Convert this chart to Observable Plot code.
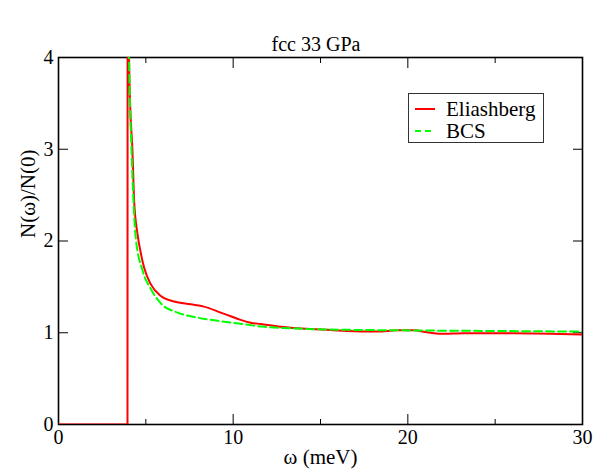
<!DOCTYPE html>
<html><head><meta charset="utf-8">
<script src="https://cdn.jsdelivr.net/npm/d3@7"></script>
<script src="https://cdn.jsdelivr.net/npm/@observablehq/plot@0.6"></script>
<style>
body{margin:0;background:#fff;}
#wrap{position:relative;width:612px;height:470px;font-family:"Liberation Serif",serif;color:#000;}
#title{position:absolute;left:50px;width:532px;top:34px;text-align:center;font-size:20px;line-height:1;}
#legend{position:absolute;left:408px;top:93px;width:136px;height:50px;box-sizing:border-box;border:1.5px solid #333;background:#fff;font-size:21px;}
#legend .row{position:absolute;left:0;height:20px;line-height:20px;white-space:nowrap;}
#legend svg{position:absolute;left:6px;top:0;}
#legend span{position:absolute;left:37px;top:0;}
</style></head><body>
<div id="wrap">
<div id="title">fcc 33 GPa</div>
<div id="chart"></div>
<div id="legend"></div>
</div>
<script>
// Eliashberg density of states
const elOmega = [0, 3.95, 3.96, 4.04, 4.12, 4.23, 4.33, 4.52, 4.70, 4.90, 5.28, 5.86, 6.62, 7.57, 8.33, 9.29, 9.86, 10.43, 11.0, 11.58, 12.72, 14.44, 15.59, 16.5, 18.26, 19.4, 20.36, 21.1, 21.88, 23.2, 26.07, 30];
const elN     = [0, 0,    8,    4.0,  3.4,  3.0,  2.44, 2.08, 1.88, 1.71, 1.53, 1.40, 1.34, 1.31, 1.285, 1.22, 1.18, 1.14, 1.11, 1.095, 1.065, 1.04, 1.03, 1.02, 1.013, 1.027, 1.027, 1.005, 0.988, 0.995, 0.995, 0.98];
// BCS density of states
const bcsOmega = [4.0, 4.04, 4.18, 4.29, 4.42, 4.81, 5.28, 5.86, 6.81, 7.96, 9.29, 10.34, 11.77, 13.68, 15.59, 17.5, 20.36, 24.2, 30];
const bcsN     = [8,   4.0,  3.0,  2.44, 2.04, 1.68, 1.48, 1.32, 1.22, 1.165, 1.125, 1.10, 1.065, 1.045, 1.035, 1.03, 1.025, 1.02, 1.013];
const xMajorTicks = [0, 10, 20, 30];
const xMinorTicks = [5, 15, 25];
const yTicks = [0, 1, 2, 3, 4];
const xLabel = ["ω (meV)"];
const yLabel = ["N(ω)/N(0)"];
const seriesNames = ["Eliashberg", "BCS"];
const seriesColors = ["#ff0000", "#00ff00"];
const seriesDash = [null, "8,4"];

const el = elOmega.map((w, i) => ({w, n: elN[i]}));
const bcs = bcsOmega.map((w, i) => ({w, n: bcsN[i]}));

const chart = Plot.plot({
  width: 612, height: 470,
  marginLeft: 58, marginRight: 30, marginTop: 57, marginBottom: 46,
  style: {fontFamily: "Liberation Serif", fontSize: "20px", color: "#000", background: "#fff"},
  x: {domain: [0, 30]},
  y: {domain: [0, 4]},
  marks: [
    Plot.frame({stroke: "#000", strokeWidth: 1.6}),
    Plot.axisX({ticks: xMajorTicks, tickSize: -10, tickPadding: 15, tickFormat: d => String(d), label: null}),
    Plot.axisX({ticks: xMinorTicks, tickSize: -5, fill: "none", label: null}),
    Plot.axisX({anchor: "top", ticks: xMajorTicks, tickSize: -10, fill: "none", label: null}),
    Plot.axisX({anchor: "top", ticks: xMinorTicks, tickSize: -5, fill: "none", label: null}),
    Plot.axisY({ticks: yTicks, tickSize: -10, tickPadding: 15, tickFormat: d => String(d), label: null}),
    Plot.axisY({anchor: "right", ticks: yTicks, tickSize: -10, fill: "none", label: null}),
    Plot.text(xLabel, {frameAnchor: "bottom", lineAnchor: "bottom", dy: 39, fontSize: 21, fill: "#000"}),
    Plot.text(yLabel, {frameAnchor: "left", lineAnchor: "top", rotate: -90, dx: -38, dy: -3, fontSize: 21, fill: "#000"}),
    Plot.line(el, {x: "w", y: "n", stroke: seriesColors[0], strokeWidth: 2, curve: "monotone-x", clip: true}),
    Plot.line(bcs, {x: "w", y: "n", stroke: seriesColors[1], strokeWidth: 2, strokeDasharray: seriesDash[1], curve: "monotone-x", clip: true})
  ]
});
document.getElementById("chart").appendChild(chart);

const legend = document.getElementById("legend");
seriesNames.forEach((name, i) => {
  const row = document.createElement("div");
  row.className = "row";
  row.style.top = (i === 0 ? 4.5 : 27) + "px";
  row.style.width = "130px";
  row.innerHTML = `<svg width="24" height="20"><line x1="0" x2="20" y1="10" y2="10" stroke="${seriesColors[i]}" stroke-width="2" ${seriesDash[i] ? `stroke-dasharray="6,4"` : ""}/></svg><span>${name}</span>`;
  legend.appendChild(row);
});
</script>
</body></html>
